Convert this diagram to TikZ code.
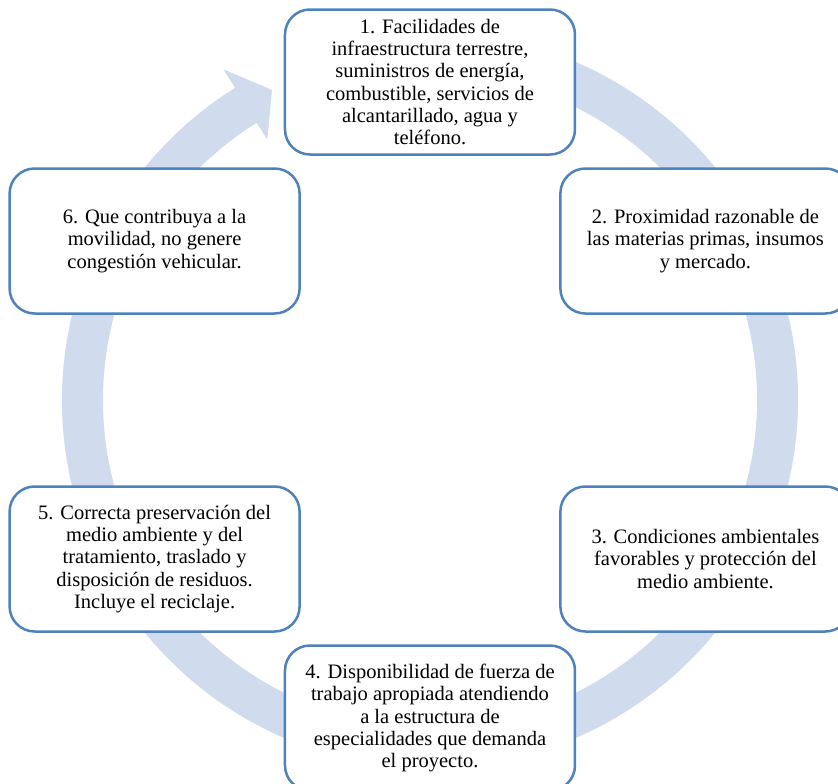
\documentclass[tikz,border=0pt]{standalone}
\usepackage{fontspec}
\setmainfont{Liberation Serif}
\definecolor{ringblue}{RGB}{208,220,238}
\definecolor{boxblue}{RGB}{79,129,189}
\begin{document}
\begin{tikzpicture}[x=0.6pt,y=0.6pt,
  stage/.style={draw=boxblue,line width=1.5pt,fill=white,rounded corners=15pt,
    minimum width=174pt,minimum height=87pt,inner sep=0pt,align=center,
    font=\fontsize{12.3}{13.4}\selectfont}]
\useasboundingbox (-430,-384) rectangle (408,400);

% circular arrow behind the boxes
\fill[ringblue] (80:368) arc[start angle=80,end angle=-238,radius=368]
  -- (122:390) -- (117:348) -- (122:307) -- (122:327)
  arc[start angle=-238,end angle=80,radius=327] -- cycle;

\node[stage] (fac) at (90:318) {1. Facilidades de\\infraestructura terrestre,\\suministros de energía,\\combustible, servicios de\\alcantarillado, agua y\\teléfono.};
\node[stage] (prox) at (30:318) {2. Proximidad razonable de\\las materias primas, insumos\\y mercado.};
\node[stage] (cond) at (-30:318) {3. Condiciones ambientales\\favorables y protección del\\medio ambiente.};
\node[stage] (disp) at (-90:318) {4. Disponibilidad de fuerza de\\trabajo apropiada atendiendo\\a la estructura de\\especialidades que demanda\\el proyecto.};
\node[stage] (pres) at (-150:318) {5. Correcta preservación del\\medio ambiente y del\\tratamiento, traslado y\\disposición de residuos.\\Incluye el reciclaje.};
\node[stage] (movil) at (150:318) {6. Que contribuya a la\\movilidad, no genere\\congestión vehicular.};

\end{tikzpicture}
\end{document}
